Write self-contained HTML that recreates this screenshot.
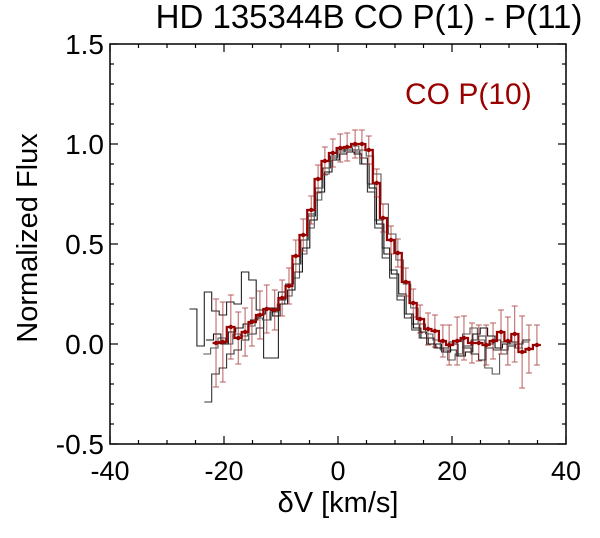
<!DOCTYPE html>
<html><head><meta charset="utf-8"><style>
body{margin:0;background:#fff}
svg text{font-family:"Liberation Sans",Arial,sans-serif}
</style></head><body>
<svg id="chart" width="600" height="533" viewBox="0 0 600 533" xmlns="http://www.w3.org/2000/svg">
<text x="369" y="28" font-size="33" text-anchor="middle">HD 135344B CO P(1) - P(11)</text>
<text x="405" y="104" font-size="30" fill="#990000">CO P(10)</text>
<text transform="translate(37,238) rotate(-90)" font-size="29" text-anchor="middle">Normalized Flux</text>
<text x="338" y="512" font-size="29" text-anchor="middle">δV [km/s]</text>
<g id="axes"></g>
<g id="series"></g>
</svg>
<script>
const xTicks=[-40,-20,0,20,40];
const yTicks=[-0.5,0.0,0.5,1.0,1.5];
const yTickLabels=["-0.5","0.0","0.5","1.0","1.5"];
const redV=[-21.4,-20.2,-18.8,-17.5,-16.3,-15.1,-13.7,-12.5,-11.1,-9.8,-8.6,-7.4,-6.1,-4.7,-3.5,-2.3,-0.9,0.4,1.6,3.0,4.2,5.4,6.8,7.9,9.3,10.5,11.9,13.2,14.4,15.8,17.0,18.4,19.5,20.9,22.1,23.5,24.7,26.0,27.2,28.6,29.8,31.0,32.3,33.5,34.9];
const redFlux=[0.005,0.01,0.085,0.03,0.06,0.11,0.145,0.175,0.17,0.23,0.29,0.44,0.545,0.67,0.825,0.915,0.955,0.98,0.985,1.0,1.0,0.97,0.805,0.63,0.52,0.455,0.31,0.205,0.125,0.075,0.065,0.015,-0.005,0.015,0.03,0.005,0.005,-0.005,0.015,0.06,0.015,0.05,-0.04,-0.025,-0.005];
const redErr=[0.22,0.2,0.16,0.13,0.12,0.12,0.12,0.12,0.1,0.09,0.09,0.08,0.08,0.07,0.07,0.07,0.07,0.07,0.07,0.07,0.07,0.07,0.07,0.07,0.07,0.07,0.07,0.07,0.07,0.08,0.08,0.08,0.1,0.12,0.11,0.1,0.09,0.1,0.09,0.11,0.12,0.14,0.18,0.12,0.1];
const blackStart=[-25.4,-22.8,-23.0,-22.5];
const blackStep=1.3;
const black1=[0.175,-0.01,0.26,0.165,0.145,0.21,0.20,0.36,0.32,0.17,-0.07,-0.07,0.26,0.30,0.40,0.52,0.64,0.78,0.88,0.93,0.96,0.97,0.97,0.93,0.80,0.62,0.48,0.37,0.24,0.15,0.10,0.06,0.03,0.0,-0.02,0.01,0.02,-0.02,-0.05,-0.08,0.0,0.02,-0.03,-0.01,0.0,0.02];
const black2=[-0.29,-0.15,-0.12,-0.05,-0.03,0.02,0.05,0.08,0.12,0.18,0.22,0.30,0.40,0.52,0.65,0.78,0.88,0.94,0.97,0.98,0.96,0.90,0.76,0.58,0.43,0.33,0.22,0.13,0.07,0.03,0.0,-0.02,-0.04,-0.03,-0.06,-0.01,0.02,0.04,-0.02,-0.03,0.01,0.0,-0.02];
const black3=[-0.05,-0.02,0.03,0.0,0.05,0.04,0.09,0.13,0.12,0.16,0.20,0.24,0.33,0.45,0.58,0.72,0.85,0.92,0.96,0.98,0.99,0.97,0.94,0.85,0.70,0.55,0.42,0.30,0.18,0.10,0.05,0.02,-0.03,-0.08,-0.05,0.05,0.08,0.02,-0.12,-0.15,-0.05,0.0,-0.02,0.01];
const black4=[0.02,0.05,0.0,0.06,0.08,0.10,0.12,0.15,0.18,0.14,0.20,0.27,0.36,0.48,0.62,0.76,0.86,0.92,0.95,0.96,0.95,0.90,0.78,0.60,0.45,0.35,0.25,0.15,0.08,0.03,0.0,-0.02,-0.04,0.0,-0.06,-0.04,0.05,0.08,0.04,-0.02,0.0,0.01];

const L=110,R=566,T=44,B=444;
const X=v=>L+(v+40)/80*(R-L);
const Y=f=>B-(f+0.5)/2*(B-T);
const NS="http://www.w3.org/2000/svg";
function mk(tag,attrs,parent){const e=document.createElementNS(NS,tag);for(const k in attrs)e.setAttribute(k,attrs[k]);parent.appendChild(e);return e;}
const axes=document.getElementById('axes'), ser=document.getElementById('series');

const frame=mk('rect',{x:L,y:T,width:R-L,height:B-T,fill:'none',stroke:'#000','stroke-width':1.5},axes);


for(let v=-40;v<=40;v+=5){
  const major=v%20===0, len=major?8:4;
  const t1=mk('line',{x1:X(v),x2:X(v),y1:B,y2:B-len,stroke:'#000','stroke-width':1.2},axes);
  
  
  const t2=mk('line',{x1:X(v),x2:X(v),y1:T,y2:T+len,stroke:'#000','stroke-width':1.2},axes);
  
  
}
xTicks.forEach(v=>{
  const t=mk('text',{x:X(v),y:B+36,'font-size':27,'text-anchor':'middle'},axes);t.textContent=String(v);
  
  
});
for(let i=0;i<=20;i++){
  const f=-0.5+i*0.1, major=i%5===0, len=major?8:4;
  const t1=mk('line',{x1:L,x2:L+len,y1:Y(f),y2:Y(f),stroke:'#000','stroke-width':1.2},axes);
  
  
  const t2=mk('line',{x1:R,x2:R-len,y1:Y(f),y2:Y(f),stroke:'#000','stroke-width':1.2},axes);
  
  
}
yTicks.forEach((f,i)=>{
  const t=mk('text',{x:L-6,y:Y(f)+10,'font-size':28,'text-anchor':'end'},axes);t.textContent=yTickLabels[i];
  
  
});

function stepPath(xs,ys){
  let d='';
  for(let i=0;i<xs.length;i++){
    const hl=i>0?(xs[i]-xs[i-1])/2:(xs[1]-xs[0])/2;
    const hr=i<xs.length-1?(xs[i+1]-xs[i])/2:hl;
    const x0=X(xs[i]-hl),x1=X(xs[i]+hr),y=Y(ys[i]);
    d+=(i===0?'M':'L')+x0.toFixed(1)+','+y.toFixed(1)+'L'+x1.toFixed(1)+','+y.toFixed(1);
  }
  return d;
}
const blacks=[black1,black2,black3,black4];
const blackColors=['#222','#333','#555','#111'];
blacks.forEach((vals,k)=>{
  const xs=vals.map((_,i)=>blackStart[k]+i*blackStep);
  const p=mk('path',{d:stepPath(xs,vals),fill:'none',stroke:blackColors[k],'stroke-width':1.1},ser);
  
  
});
redV.forEach((v,i)=>{
  const x=X(v),y1=Y(redFlux[i]+redErr[i]),y2=Y(redFlux[i]-redErr[i]);
  const e=mk('path',{d:`M${x},${y1}L${x},${y2}M${x-3},${y1}L${x+3},${y1}M${x-3},${y2}L${x+3},${y2}`,stroke:'#a02828','stroke-width':1,'stroke-opacity':0.75,fill:'none'},ser);
  
  
});
const rp=mk('path',{d:stepPath(redV,redFlux),fill:'none',stroke:'#990000','stroke-width':2.2},ser);


redV.forEach((v,i)=>{
  const c=mk('circle',{cx:X(v),cy:Y(redFlux[i]),r:2.2,fill:'#990000'},ser);
  
  
});
</script>
</body></html>
